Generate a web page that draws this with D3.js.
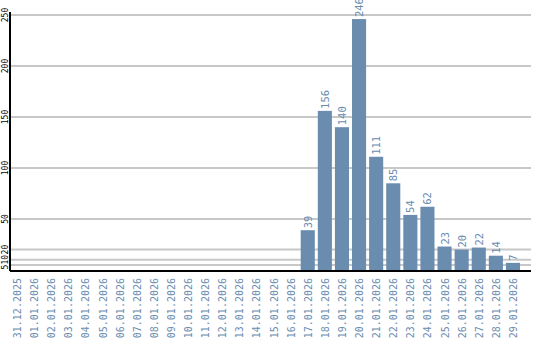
<!DOCTYPE html>
<html>
<head>
<meta charset="UTF-8">
<style>
body { margin: 0; background: #fff; }
.grid line { stroke: #c8c8c8; stroke-width: 2; }
.xlab { fill: #6a8caf; font: 10px "DejaVu Sans Mono", monospace; }
.vlab { fill: #6a8caf; font: 10.5px "DejaVu Sans Mono", monospace; }
.ylab { fill: #000; font: 8px "DejaVu Sans Mono", monospace; }
</style>
</head>
<body>
<script src="https://d3js.org/d3.v7.min.js"></script>
<script>
// dates on the x axis
var dates = ["31.12.2025", "01.01.2026", "02.01.2026", "03.01.2026", "04.01.2026",
  "05.01.2026", "06.01.2026", "07.01.2026", "08.01.2026", "09.01.2026",
  "10.01.2026", "11.01.2026", "12.01.2026", "13.01.2026", "14.01.2026",
  "15.01.2026", "16.01.2026", "17.01.2026", "18.01.2026", "19.01.2026",
  "20.01.2026", "21.01.2026", "22.01.2026", "23.01.2026", "24.01.2026",
  "25.01.2026", "26.01.2026", "27.01.2026", "28.01.2026", "29.01.2026"];
// counts per day (0 = no bar)
var counts = [0, 0, 0, 0, 0, 0, 0, 0, 0, 0, 0, 0, 0, 0, 0, 0, 0,
  39, 156, 140, 246, 111, 85, 54, 62, 23, 20, 22, 14, 7];
var yTicks = [250, 200, 150, 100, 50, 20, 10, 5];

var W = 540, H = 340;
var plotL = 10, plotR = 531, plotT = 15, plotB = 270;

var svg = d3.select("body").append("svg")
  .attr("width", W).attr("height", H);

var x = d3.scaleBand()
  .domain(dates)
  .range([plotL, plotL + 17 * dates.length])
  .paddingInner(3 / 17).paddingOuter(0).align(0);

var y = d3.scaleLinear()
  .domain([0, 250])
  .range([plotB, plotT]);

// grid lines
svg.append("g").attr("class", "grid")
  .selectAll("line").data(yTicks).join("line")
  .attr("x1", plotL).attr("x2", plotR)
  .attr("y1", function(d) { return y(d); })
  .attr("y2", function(d) { return y(d); });

// y tick labels (rotated), pushed down so they don't overlap
var charW = 4.8, prevEnd = -Infinity;
var yLabPos = yTicks.map(function(d) {
  var len = String(d).length * charW;
  var c = Math.max(y(d), prevEnd + len / 2);
  prevEnd = c + len / 2;
  return c;
});
svg.append("g").selectAll("text").data(yTicks).join("text")
  .attr("class", "ylab")
  .attr("text-anchor", "middle")
  .attr("transform", function(d, i) { return "translate(7.5," + yLabPos[i] + ") rotate(-90)"; })
  .text(function(d) { return d; });

var data = dates.map(function(d, i) { return { date: d, v: counts[i] }; });
var shown = data.filter(function(d) { return d.v > 0; });

// bars
svg.append("g").selectAll("rect").data(shown).join("rect")
  .attr("x", function(d) { return x(d.date); })
  .attr("width", x.bandwidth())
  .attr("y", function(d) { return y(d.v); })
  .attr("height", function(d) { return plotB - y(d.v); })
  .attr("fill", "#6a8caf");

// value labels
svg.append("g").selectAll("text").data(shown).join("text")
  .attr("class", "vlab")
  .attr("transform", function(d) {
    return "translate(" + (x(d.date) + 11) + "," + (y(d.v) - 2) + ") rotate(-90)";
  })
  .text(function(d) { return d.v; });

// x labels
svg.append("g").selectAll("text").data(dates).join("text")
  .attr("class", "xlab")
  .attr("text-anchor", "end")
  .attr("transform", function(d) {
    return "translate(" + (x(d) + 11) + "," + 278 + ") rotate(-90)";
  })
  .text(function(d) { return d; });

// axis lines
svg.append("line").attr("x1", plotL).attr("x2", plotL)
  .attr("y1", 12).attr("y2", plotB + 1)
  .attr("stroke", "#000").attr("stroke-width", 2);
svg.append("line").attr("x1", plotL).attr("x2", plotR)
  .attr("y1", plotB + 1).attr("y2", plotB + 1)
  .attr("stroke", "#000").attr("stroke-width", 2);
</script>
</body>
</html>
